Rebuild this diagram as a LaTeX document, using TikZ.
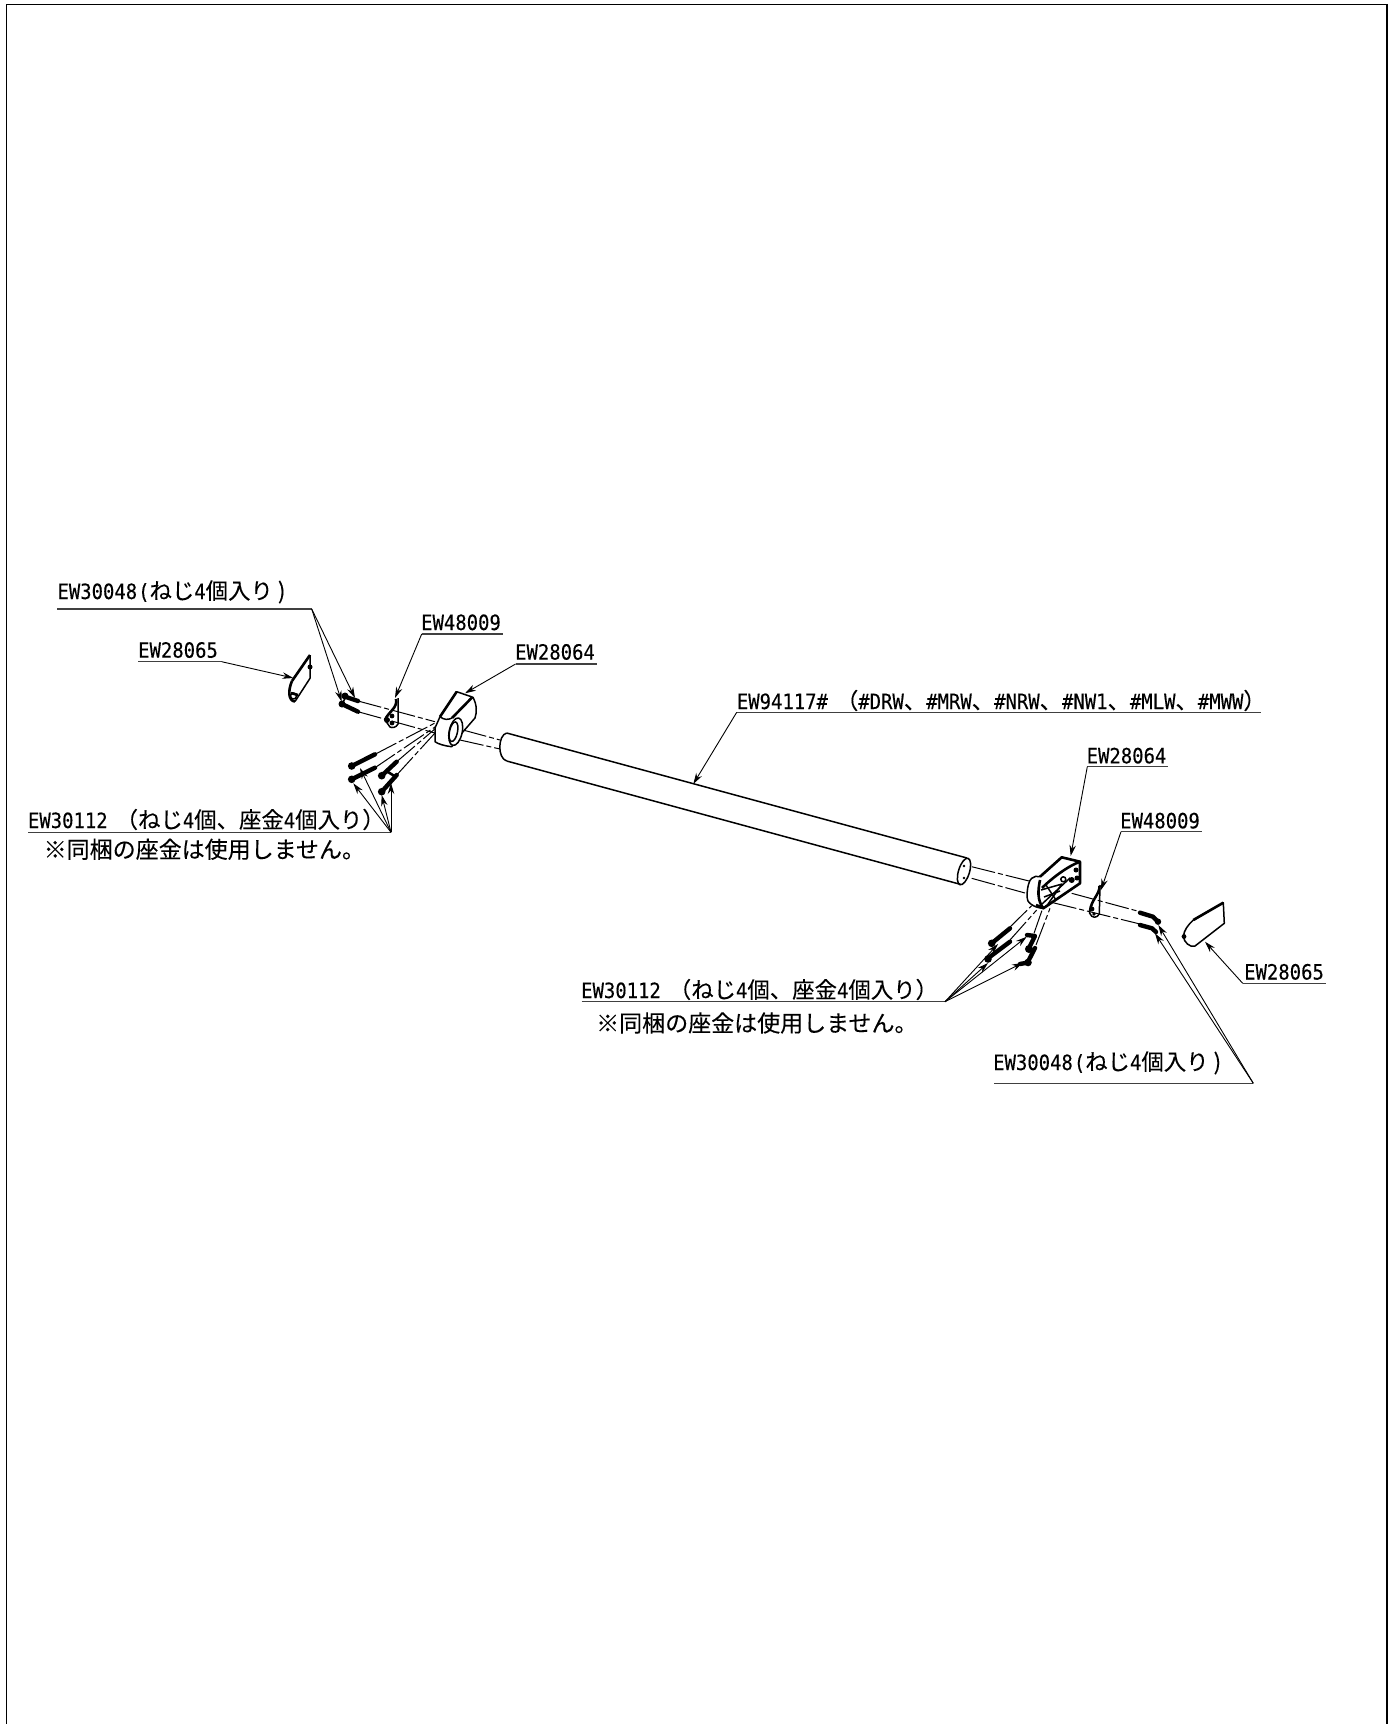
\documentclass[tikz,border=0pt]{standalone}
\usepackage{fontspec}
\usetikzlibrary{arrows.meta}
\newfontfamily\hwfont[FakeStretch=0.9,FakeBold=0.2]{DejaVu Sans Mono}
\newfontfamily\cjkfont[FakeBold=0.15]{Noto Sans CJK JP}
\newcommand{\jp}[1]{{\cjkfont\fontsize{22.4}{24}\selectfont #1}}
\newcommand{\jpnote}[1]{{\cjkfont\fontsize{23}{24}\selectfont #1}}
\tikzset{
  partlabel/.style={font=\hwfont\fontsize{21}{24}\selectfont, anchor=base west, inner sep=0pt},
  underline/.style={line width=1.3pt, black!75},
  leader/.style={line width=0.9pt, -{Stealth[length=11pt,width=6.5pt]}},
  part/.style={line width=1.5pt, line join=round},
  heavy/.style={line width=2.6pt, line join=round},
  bolt/.style={line width=4.4pt, line cap=round, line join=round},
  axis/.style={line width=1pt, dash pattern=on 24pt off 3pt on 5pt off 3pt}
}
\begin{document}
\begin{tikzpicture}[x=1pt, y=-1pt]
\useasboundingbox (0,0) rectangle (1394,1724);
\draw [line width=1.6pt] (6.5,1724) -- (6.5,4.5) -- (1387,4.5) -- (1387,1724);

\draw [part] (506.7,733) -- (967,858);
\draw [part] (506.7,761) -- (961,884.5);
\draw [part] (506.7,733) .. controls (498,735) and (497,758) .. (506.7,761);
\draw [part] (964,871.5) ellipse [x radius=5.5, y radius=13.8, rotate=-17];
\fill (964,866) circle (1.4);
\fill (964,878) circle (1.4);

\draw [axis] (358,701) -- (435,721.7);
\draw [axis] (358,711.7) -- (435,733);
\draw [axis] (463,730) -- (500,740);
\draw [axis] (460,740) -- (500,749);
\draw [axis] (971.7,866.7) -- (1033,882);
\draw [axis] (971.7,878.3) -- (1025,893);
\draw [axis] (1071.7,893.3) -- (1140,911.7);
\draw [axis] (1053,902.7) -- (1140,924);
\draw [axis] (375,754.3) -- (435,723);
\draw [axis] (375,767.7) -- (435,727);
\draw [axis] (396.7,761.7) -- (436,728);
\draw [axis] (396.7,775) -- (435,733);
\draw [axis] (1010,927) -- (1031.7,905.7);
\draw [axis] (1010,940) -- (1036.7,910);
\draw [axis] (1034,933.3) -- (1042.7,908.3);
\draw [axis] (1036,945) -- (1050,908.3);

\draw [part, fill=white] (435,728) -- (440,716.7) -- (456.7,691.7) -- (473,697.3) .. controls (477,705) and (477,712) .. (475,718) -- (461.7,733.3) -- (451.7,746.7) .. controls (445,746) and (438,744) .. (435,741.7) -- cycle;
\draw [part] (440,716.7) .. controls (444,720) and (448,720) .. (452,718);
\draw [heavy] (452,718) -- (472,697.5);
\draw [heavy] (440,716.7) -- (456.7,691.7);
\draw [part, fill=white] (455.7,731.7) ellipse [x radius=6.5, y radius=14, rotate=-12];
\draw [part] (453.5,731.7) ellipse [x radius=4, y radius=10, rotate=-12];

\draw [heavy] (310,655) -- (292,681);
\draw [part] (310,655) -- (310,678.3) -- (295,701.5);
\draw [heavy] (292,681) .. controls (288,690) and (288,701) .. (295,701.5);
\draw [heavy] (291,693) -- (298,695);
\draw [part] (293.5,696) circle (3);
\fill (310,667) circle (2.5);

\draw [heavy] (396,699) .. controls (398,708) and (388,712) .. (385,720);
\draw [part] (398,698) -- (398,724) .. controls (396,728) and (392,728) .. (390,727) -- (385,720);
\fill (392,716) circle (2.4);
\fill (387,720) circle (3);
\fill (392,723) circle (2.4);

\draw [bolt] (346,697) -- (358,701);
\draw [bolt] (344,705) -- (358,711.7);
\draw [part] (345,698) -- (342,705);
\fill (345,696) circle (3.5);
\fill (342,704) circle (3.5);
\draw [bolt] (351.7,766) -- (375,754.3);
\draw [bolt] (351.7,779.3) -- (375,767.7);
\draw [bolt] (381.7,775.7) -- (396.7,761.7);
\draw [bolt] (381.7,791.7) -- (396.7,775);
\fill (351.7,766) circle (3.8);
\fill (351.7,779.3) circle (3.8);
\fill (381.7,775.7) circle (3.8);
\fill (381.7,791.7) circle (3.8);
\draw [heavy] (388,772) -- (396,777);

\draw [part, fill=white] (1040,876.7) -- (1061.7,857.3) -- (1080,861.7) -- (1080,883.3) -- (1043.3,908.3) .. controls (1034,908) and (1026,902) .. (1027,896.7) .. controls (1027,888) and (1029,880) .. (1031.7,878.3) .. controls (1034,876) and (1037,876) .. (1040,876.7);
\draw [heavy] (1040,880) .. controls (1038,890) and (1037,900) .. (1043.3,908.3) -- (1080,883.3) -- (1080,861.7) -- (1061.7,857.3) -- (1040,876.7);
\draw [heavy] (1080,861.7) .. controls (1068,866) and (1052,878) .. (1042,888);
\draw [part] (1042,904) -- (1070,878);
\draw [part] (1041,890) -- (1062,884) -- (1048,904);
\draw [part] (1046,885) -- (1056,900);
\draw [part] (1044,897) -- (1060,891);
\draw [part] (1063.3,879.3) circle (2.5);
\fill (1071.7,880) circle (3);
\fill (1076,870) circle (2.5);
\fill (1077,878) circle (2.5);
\draw [heavy] (1036,905) -- (1044,908);

\draw [heavy] (1099.5,886) .. controls (1100,894) and (1091,900) .. (1090,911);
\draw [part] (1100,885) -- (1099.3,914) .. controls (1097,918) and (1092,919) .. (1089.5,913) -- (1090,911);
\fill (1092,909) circle (2.4);
\fill (1094,914) circle (1.8);

\draw [bolt] (1140,912.7) -- (1153,916.7) -- (1158,921.7);
\draw [bolt] (1140,925) -- (1152,928.3) -- (1156,932);
\fill (1158,921.7) circle (3.2);
\draw [bolt] (991.7,943.3) -- (1010,928.3);
\draw [bolt] (990,956.7) -- (1010,941.7);
\fill (991.7,943.3) circle (3.8);
\fill (988,959) circle (3.8);
\draw [bolt] (1028,950) -- (1035,936) -- (1027,935);
\draw [bolt] (1028,961.7) -- (1035,948);
\fill (1029,949) circle (4);
\fill (1028,962.5) circle (3.8);
\draw [bolt] (1028,962.5) -- (1020,964);

\draw [part] (1223.3,902.7) -- (1224.3,923.3) -- (1195,946) .. controls (1190,948) and (1184,942) .. (1183.3,936.7) .. controls (1184,930) and (1188,925) .. (1193.3,920) -- cycle;
\draw [heavy] (1223.3,902.7) -- (1193.3,920);
\fill (1184,936.5) circle (2.4);

\coordinate (lcapuL) at (138,661.7);
\coordinate (lcapuR) at (221.7,661.7);
\coordinate (lcaptip) at (293.3,678);
\node [partlabel] (lcap) at (138,657.7) {EW28065};
\draw [underline] (lcapuL) -- (lcapuR);
\draw [leader] (lcapuR) -- (lcaptip);

\coordinate (lscrewuL) at (57,609);
\coordinate (lscrewuR) at (311.7,609);
\coordinate (lscrewtipa) at (355,698);
\coordinate (lscrewtipb) at (341.7,701.7);
\node [partlabel] (lscrew) at (57.3,599) {EW30048\hspace{1pt}(\jp{ねじ}4\jp{個入り\hspace{5pt})}};
\draw [underline] (lscrewuL) -- (lscrewuR);
\draw [leader] (lscrewuR) -- (lscrewtipa);
\draw [leader] (lscrewuR) -- (lscrewtipb);

\coordinate (lwashuL) at (421.7,634);
\coordinate (lwashuR) at (503,634);
\coordinate (lwashtip) at (395,698);
\node [partlabel] (lwash) at (421,630) {EW48009};
\draw [underline] (lwashuL) -- (lwashuR);
\draw [leader] (lwashuL) -- (lwashtip);

\coordinate (lbrkuL) at (515.6,664);
\coordinate (lbrkuR) at (597,664);
\coordinate (lbrktip) at (465,693.3);
\node [partlabel] (lbrk) at (515,659.6) {EW28064};
\draw [underline] (lbrkuL) -- (lbrkuR);
\draw [leader] (lbrkuL) -- (lbrktip);

\coordinate (pipeuL) at (736.7,712.3);
\coordinate (pipeuR) at (1261,712.3);
\coordinate (pipetip) at (693.3,784);
\node [partlabel] (pipe) at (736.7,709) {EW94117\#\hspace{8pt}\jp{（}\#DRW\jp{、}\#MRW\jp{、}\#NRW\jp{、}\#NW1\jp{、}\#MLW\jp{、}\#MWW\jp{）}};
\draw [underline] (pipeuL) -- (pipeuR);
\draw [leader] (pipeuL) -- (pipetip);

\coordinate (lbolteuL) at (28.3,832.3);
\coordinate (lbolteuR) at (391,832.3);
\coordinate (lbolttipa) at (353.3,783.3);
\coordinate (lbolttipb) at (360,768);
\coordinate (lbolttipc) at (381.7,795);
\coordinate (lbolttipd) at (391,783);
\node [partlabel] (lbolt) at (27.8,828) {EW30112\hspace{8pt}\jp{（ねじ}4\jp{個、座金}4\jp{個入り）}};
\node [partlabel] (lnote) at (43.5,858) {\jpnote{※同梱の座金は使用しません。}};
\draw [underline] (lbolteuL) -- (lbolteuR);
\draw [leader] (lbolteuR) -- (lbolttipa);
\draw [leader] (lbolteuR) -- (lbolttipb);
\draw [leader] (lbolteuR) -- (lbolttipc);
\draw [leader] (lbolteuR) -- (lbolttipd);

\coordinate (rbrkuL) at (1087.3,766.7);
\coordinate (rbrkuR) at (1168,766.7);
\coordinate (rbrktip) at (1070.7,856);
\node [partlabel] (rbrk) at (1086.5,763.3) {EW28064};
\draw [underline] (rbrkuL) -- (rbrkuR);
\draw [leader] (rbrkuL) -- (rbrktip);

\coordinate (rwashuL) at (1121,831.7);
\coordinate (rwashuR) at (1201.7,831.7);
\coordinate (rwashtip) at (1101,890);
\node [partlabel] (rwash) at (1120,828.3) {EW48009};
\draw [underline] (rwashuL) -- (rwashuR);
\draw [leader] (rwashuL) -- (rwashtip);

\coordinate (rcapuL) at (1242.7,983.3);
\coordinate (rcapuR) at (1326,983.3);
\coordinate (rcaptip) at (1205,941.7);
\node [partlabel] (rcap) at (1244,979.5) {EW28065};
\draw [underline] (rcapuL) -- (rcapuR);
\draw [leader] (rcapuL) -- (rcaptip);

\coordinate (rscrewuL) at (994,1083.3);
\coordinate (rscrewuR) at (1253.3,1083.3);
\coordinate (rscrewtipa) at (1158.3,925);
\coordinate (rscrewtipb) at (1155,933.3);
\node [partlabel] (rscrew) at (993,1070) {EW30048\hspace{1pt}(\jp{ねじ}4\jp{個入り\hspace{5pt})}};
\draw [underline] (rscrewuL) -- (rscrewuR);
\draw [leader] (rscrewuR) -- (rscrewtipa);
\draw [leader] (rscrewuR) -- (rscrewtipb);

\coordinate (rbolteuL) at (581.7,1001.7);
\coordinate (rbolteuR) at (945,1001.7);
\coordinate (rbolttipa) at (998,944);
\coordinate (rbolttipb) at (988,963);
\coordinate (rbolttipc) at (1026.7,936.7);
\coordinate (rbolttipd) at (1023,962.7);
\node [partlabel] (rbolt) at (581,998) {EW30112\hspace{8pt}\jp{（ねじ}4\jp{個、座金}4\jp{個入り）}};
\node [partlabel] (rnote) at (596,1031.7) {\jpnote{※同梱の座金は使用しません。}};
\draw [underline] (rbolteuL) -- (rbolteuR);
\draw [leader] (rbolteuR) -- (rbolttipa);
\draw [leader] (rbolteuR) -- (rbolttipb);
\draw [leader] (rbolteuR) -- (rbolttipc);
\draw [leader] (rbolteuR) -- (rbolttipd);
\end{tikzpicture}
\end{document}
